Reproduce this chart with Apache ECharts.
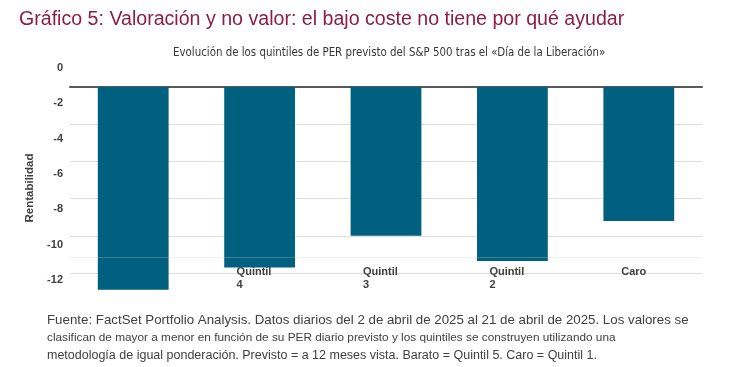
<!DOCTYPE html>
<html>
<head>
<meta charset="utf-8">
<script src="https://cdn.jsdelivr.net/npm/echarts@6/dist/echarts.min.js"></script>
<style>
html,body{margin:0;padding:0;background:#fff;}
#chart{width:731px;height:367px;}
</style>
</head>
<body>
<div id="chart"></div>
<script>
// ---- data ----
const categories = ['Barato', 'Quintil\n4', 'Quintil\n3', 'Quintil\n2', 'Caro'];
const values = [-10.9, -9.7, -8.0, -9.35, -7.2];
const gridTicks = [0, -2, -4, -6, -8, -10];          // gridline values of the bar axis
const yTickLabels = [0, -2, -4, -6, -8, -10, -12];   // printed tick labels
const extraLineValue = -9.14;                        // faint extra rule seen in the source

const titleText = 'Gráfico 5: Valoración y no valor: el bajo coste no tiene por qué ayudar';
const subtitleText = 'Evolución de los quintiles de PER previsto del S&P 500 tras el «Día de la Liberación»';
const footText = [
  'Fuente: FactSet Portfolio Analysis. Datos diarios del 2 de abril de 2025 al 21 de abril de 2025. Los valores se',
  'clasifican de mayor a menor en función de su PER diario previsto y los quintiles se construyen utilizando una',
  'metodología de igual ponderación. Previsto = a 12 meses vista. Barato = Quintil 5. Caro = Quintil 1.'
];

const FONT = '"Liberation Sans", Arial, sans-serif';
const LBL = '#404040';

const chart = echarts.init(document.getElementById('chart'), null, {renderer: 'canvas'});
chart.setOption({
  animation: false,
  backgroundColor: '#ffffff',
  title: [
    {text: titleText, left: 14, top: 5,
     textStyle: {fontFamily: FONT, fontSize: 19.6, fontWeight: 'normal', color: '#8d1d45'}},
    {text: subtitleText, left: 168, top: 43,
     textStyle: {fontFamily: '"DejaVu Sans Condensed", "Liberation Sans Narrow", Arial, sans-serif', fontSize: 11.4, fontWeight: 'normal', color: '#383838'}},
    {text: '{a|' + footText[0] + '}\n{b|' + footText[1] + '}\n{c|' + footText[2] + '}', left: 42, top: 306,
     textStyle: {
       fontFamily: FONT, fontWeight: 'normal', color: '#404040', lineHeight: 18,
       rich: {
         a: {fontFamily: FONT, fontWeight: 'normal', fontSize: 13.3, color: '#404040', lineHeight: 18},
         b: {fontFamily: FONT, fontWeight: 'normal', fontSize: 11.8, color: '#404040', lineHeight: 18},
         c: {fontFamily: FONT, fontWeight: 'normal', fontSize: 12.5, color: '#404040', lineHeight: 18}
       }
     }}
  ],
  grid: [
    {left: 70, right: 29, top: 87, height: 186},
    {left: 70, right: 29, top: 68, height: 212}
  ],
  xAxis: [
    {type: 'category', gridIndex: 0, data: categories, position: 'bottom',
     axisLine: {show: false, onZero: false}, axisTick: {show: false}, splitLine: {show: false},
     axisLabel: {
       margin: -8, padding: [0, 10, 0, 0],
       formatter: v => v.indexOf('\n') >= 0
         ? v.split('\n').map(s => '{q|' + s + '}').join('\n')
         : '{c|' + v + '}',
       rich: {
         q: {width: 36, align: 'left', fontFamily: FONT, fontSize: 11, fontWeight: 'bold', color: LBL, lineHeight: 13},
         c: {width: 36, align: 'center', fontFamily: FONT, fontSize: 11, fontWeight: 'bold', color: LBL, lineHeight: 13}
       }
     }},
    {type: 'category', gridIndex: 0, data: categories, position: 'top',
     axisLine: {show: true, onZero: false, lineStyle: {color: '#595959', width: 2}},
     axisTick: {show: false}, axisLabel: {show: false}, splitLine: {show: false}},
    {type: 'category', gridIndex: 1, data: categories, show: false}
  ],
  yAxis: [
    {type: 'value', gridIndex: 0,
     min: gridTicks[gridTicks.length - 1], max: gridTicks[0], interval: 2,
     axisLine: {show: false}, axisTick: {show: false}, axisLabel: {show: false},
     splitLine: {show: true, lineStyle: {color: '#dedede', width: 1}}},
    {type: 'value', gridIndex: 1,
     min: yTickLabels[yTickLabels.length - 1], max: yTickLabels[0], interval: 2,
     name: 'Rentabilidad', nameLocation: 'middle', nameGap: 30, nameRotate: 90,
     nameTextStyle: {fontFamily: FONT, fontSize: 11.5, fontWeight: 'bold', color: LBL, padding: [0, 28, 0, 0]},
     axisLine: {show: false}, axisTick: {show: false}, splitLine: {show: false},
     axisLabel: {margin: 7, fontFamily: FONT, fontSize: 11, fontWeight: 'bold', color: LBL}}
  ],
  series: [
    {type: 'bar', xAxisIndex: 0, yAxisIndex: 0, data: values,
     barCategoryGap: '44%', clip: false,
     itemStyle: {color: '#00607f'},
     markLine: {
       silent: true, symbol: 'none', label: {show: false},
       lineStyle: {color: 'rgba(200,200,200,0.3)', width: 1, type: 'solid'},
       data: [{yAxis: extraLineValue}]
     }}
  ]
});
</script>
</body>
</html>
